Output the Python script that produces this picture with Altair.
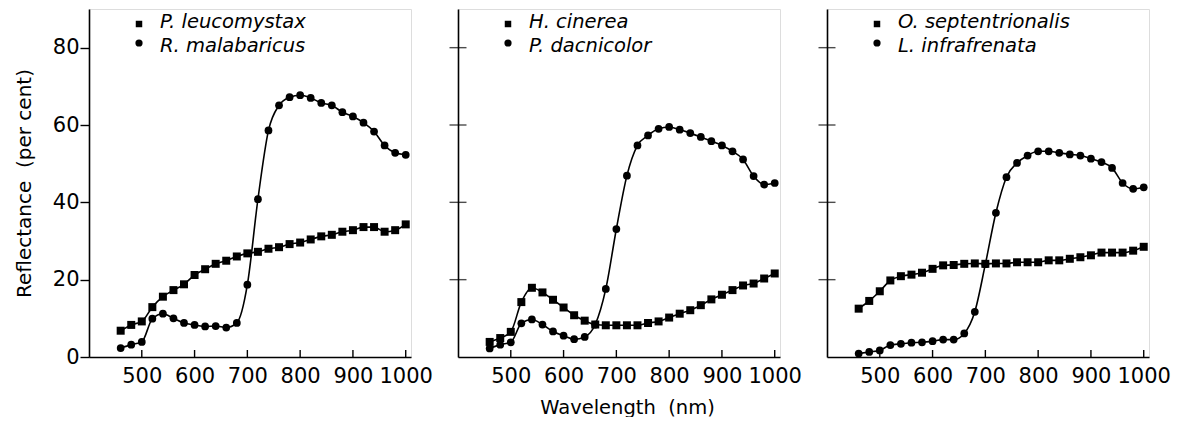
import altair as alt
import pandas as pd

wavelength = [460, 480, 500, 520, 540, 560, 580, 600, 620, 640, 660, 680, 700, 720,
              740, 760, 780, 800, 820, 840, 860, 880, 900, 920, 940, 960, 980, 1000]

# Panel 1
p_leucomystax = [6.8, 8.3, 9.2, 12.9, 15.6, 17.3, 18.8, 21.2, 22.7, 24.1, 24.9, 26.0, 26.8, 27.2,
                 28.0, 28.4, 29.2, 29.6, 30.4, 31.2, 31.6, 32.4, 32.8, 33.6, 33.6, 32.4, 32.8, 34.3]
r_malabaricus = [2.3, 3.2, 3.9, 9.9, 11.2, 10.0, 8.8, 8.3, 7.9, 8.0, 7.6, 8.8, 18.7, 40.8,
                 58.6, 65.1, 67.2, 67.7, 67.0, 65.7, 65.1, 63.3, 62.2, 60.6, 58.3, 54.7, 52.8, 52.3]
# Panel 2
h_cinerea = [3.9, 4.9, 6.5, 14.2, 17.9, 16.7, 14.8, 12.8, 10.8, 9.4, 8.4, 8.2, 8.2, 8.2,
             8.2, 8.8, 9.2, 10.2, 11.2, 12.1, 13.4, 14.9, 16.1, 17.3, 18.5, 19.0, 20.3, 21.6]
p_dacnicolor = [2.2, 3.2, 3.8, 8.7, 9.7, 8.4, 6.6, 5.5, 4.6, 5.2, 8.4, 17.6, 33.1, 46.9,
                54.7, 57.3, 59.0, 59.5, 58.8, 57.9, 56.9, 55.8, 54.7, 53.2, 51.1, 46.8, 44.6, 45.0]
# Panel 3
o_septentrionalis = [12.5, 14.5, 17.0, 19.8, 20.9, 21.3, 21.8, 22.8, 23.7, 23.8, 24.1, 24.2, 24.1, 24.2,
                     24.2, 24.5, 24.5, 24.5, 25.0, 25.0, 25.4, 25.8, 26.3, 27.0, 27.0, 27.0, 27.5, 28.5]
l_infrafrenata = [0.9, 1.3, 1.7, 3.1, 3.4, 3.7, 3.8, 4.1, 4.5, 4.5, 6.1, 11.7, 24.0, 37.3,
                  46.5, 50.2, 52.1, 53.2, 53.2, 52.8, 52.4, 52.1, 51.3, 50.4, 48.9, 45.0, 43.5, 43.9]

square_species = ["P. leucomystax", "H. cinerea", "O. septentrionalis"]
circle_species = ["R. malabaricus", "P. dacnicolor", "L. infrafrenata"]
square_series = [p_leucomystax, h_cinerea, o_septentrionalis]
circle_series = [r_malabaricus, p_dacnicolor, l_infrafrenata]

y_ticks = [0, 20, 40, 60, 80]
x_ticks = [500, 600, 700, 800, 900, 1000]

FONT = "DejaVu Sans"
W, H = 322, 348


def panel(i):
    n = len(wavelength)
    df = pd.DataFrame({
        "wl": wavelength * 2,
        "r": square_series[i] + circle_series[i],
        "s": ["sq"] * n + ["ci"] * n,
    })
    x_axis = dict(values=x_ticks, ticks=False, labelPadding=8, labelFontSize=21,
                  labelFont=FONT, domainColor="black", domainWidth=1.6, format="d",
                  labelColor="black", grid=False, title=None)
    if i == 1:
        x_axis.update(title="Wavelength\u00a0\u00a0(nm)", titleFontSize=19.5, titleFont=FONT,
                      titleFontWeight="normal", titlePadding=12, titleColor="black", titleX=169)
    if i == 0:
        y_axis = dict(values=y_ticks, tickSize=9, tickColor="black", tickWidth=1.4,
                      labelPadding=1, labelFontSize=21, labelFont=FONT, labelColor="black",
                      domainColor="black", domainWidth=1.6, grid=False,
                      title="Reflectance\u00a0\u00a0(per cent)", titleFontSize=20,
                      titleFont=FONT, titleFontWeight="normal", titlePadding=18,
                      titleColor="black")
    else:
        y_axis = dict(values=y_ticks, ticks=False, labels=False, domainColor="black",
                      domainWidth=1.6, grid=False, title=None)

    x = alt.X("wl:Q", scale=alt.Scale(domain=[400, 1010], nice=False, zero=False),
              axis=alt.Axis(**x_axis))
    y = alt.Y("r:Q", scale=alt.Scale(domain=[0, 90], nice=False), axis=alt.Axis(**y_axis))

    base = alt.Chart(df)
    lines = base.mark_line(interpolate="monotone", color="black", strokeWidth=1.6).encode(
        x=x, y=y, detail="s:N")
    squares = base.transform_filter(alt.datum.s == "sq").mark_square(
        size=64, color="black", opacity=1).encode(x=x, y=y)
    circles = base.transform_filter(alt.datum.s == "ci").mark_circle(
        size=60, color="black", opacity=1).encode(x=x, y=y)

    xt = alt.Chart(pd.DataFrame({"wl": x_ticks})).mark_rule(
        color="black", strokeWidth=1.4).encode(
        x=alt.X("wl:Q"), y=alt.value(H), y2=alt.value(H - 7))

    leg_sq = alt.Chart(pd.DataFrame({"name": [square_species[i]]}))
    leg_ci = alt.Chart(pd.DataFrame({"name": [circle_species[i]]}))
    leg = [
        leg_sq.mark_square(size=42, color="black", opacity=1).encode(
            x=alt.value(50), y=alt.value(15)),
        leg_ci.mark_circle(size=52, color="black", opacity=1).encode(
            x=alt.value(50), y=alt.value(34)),
        leg_sq.mark_text(align="left", baseline="middle", fontStyle="italic",
                         fontSize=19.5, font=FONT, color="black").encode(
            x=alt.value(71), y=alt.value(13), text="name:N"),
        leg_ci.mark_text(align="left", baseline="middle", fontStyle="italic",
                         fontSize=19.5, font=FONT, color="black").encode(
            x=alt.value(71), y=alt.value(37), text="name:N"),
    ]
    layers = [lines, squares, circles, xt] + leg
    if i > 0:
        yt = alt.Chart(pd.DataFrame({"r": y_ticks[1:]})).mark_tick(
            orient="horizontal", size=17, thickness=1.4, color="black").encode(
            x=alt.value(0), y=alt.Y("r:Q"))
        layers.append(yt)
    return alt.layer(*layers).properties(width=W, height=H)


chart = alt.hconcat(panel(0), panel(1), panel(2), spacing=47, bounds="flush").properties(
    padding={"left": 5, "top": 0, "right": 5, "bottom": 0}
).configure_view(stroke=None).configure(background="white")

chart.save("out.html", embed_options={"renderer": "svg", "actions": False})
